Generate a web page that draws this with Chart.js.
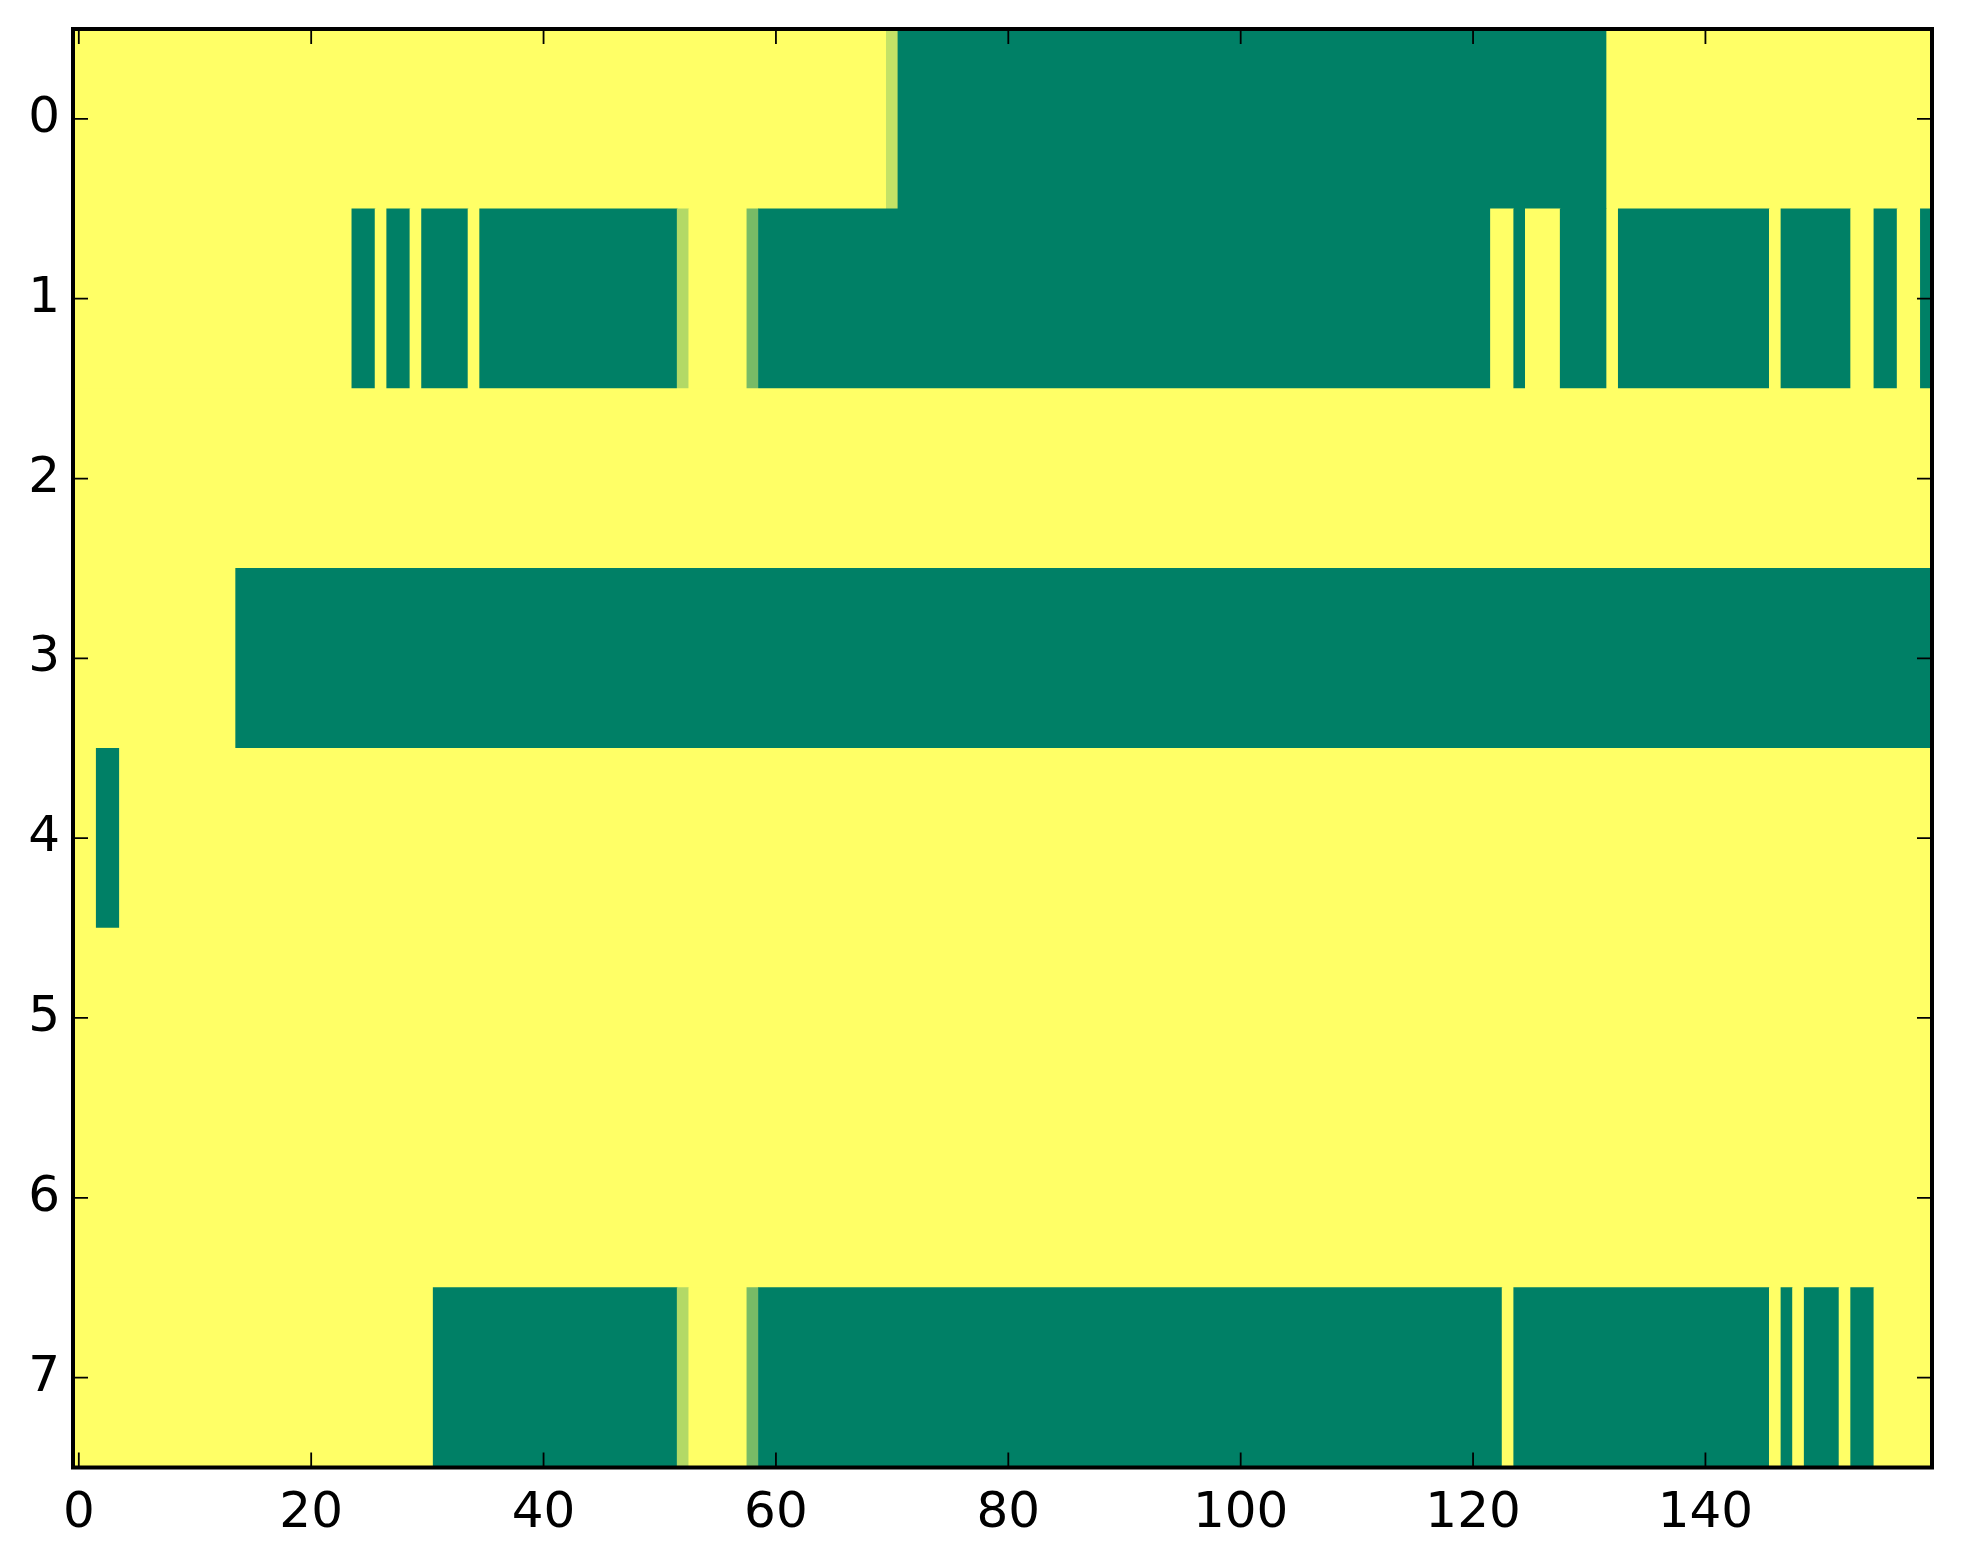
<!DOCTYPE html>
<html>
<head>
<meta charset="utf-8">
<title>imshow</title>
<script src="https://cdn.jsdelivr.net/npm/chart.js@4.4.1/dist/chart.umd.min.js"></script>
<style>
  html, body { margin: 0; padding: 0; background: #fff; }
  #grafica { display: block; }
</style>
</head>
<body>
<canvas id="grafica" width="1963" height="1564"></canvas>
<script>
// Row labels (top to bottom) and x tick labels
var rowLabels = ['0', '1', '2', '3', '4', '5', '6', '7'];
var xTicks = [0, 20, 40, 60, 80, 100, 120, 140];
var xMin = -0.5;
var xMax = 159.5;

// Each row as runs of cells: [first column, last column, value]
var row0 = [[0, 69, 1], [70, 70, 0.77], [71, 131, 0], [132, 159, 1]];
var row1 = [[0, 23, 1], [24, 25, 0], [26, 26, 1], [27, 28, 0], [29, 29, 1], [30, 33, 0],
            [34, 34, 1], [35, 51, 0], [52, 52, 0.70], [53, 57, 1], [58, 58, 0.47],
            [59, 121, 0], [122, 123, 1], [124, 124, 0], [125, 127, 1], [128, 131, 0],
            [132, 132, 1], [133, 145, 0], [146, 146, 1], [147, 152, 0], [153, 154, 1],
            [155, 156, 0], [157, 158, 1], [159, 159, 0]];
var row2 = [[0, 159, 1]];
var row3 = [[0, 13, 1], [14, 159, 0]];
var row4 = [[0, 1, 1], [2, 3, 0], [4, 159, 1]];
var row5 = [[0, 159, 1]];
var row6 = [[0, 159, 1]];
var row7 = [[0, 30, 1], [31, 51, 0], [52, 52, 0.70], [53, 57, 1], [58, 58, 0.47],
            [59, 122, 0], [123, 123, 1], [124, 145, 0], [146, 146, 1], [147, 147, 0],
            [148, 148, 1], [149, 151, 0], [152, 152, 1], [153, 154, 0], [155, 159, 1]];

var rows = [row0, row1, row2, row3, row4, row5, row6, row7];

// matplotlib "summer" colormap
function summer(v) {
    var r = Math.round(255 * v);
    var g = Math.round(255 * (0.5 + v / 2));
    return 'rgb(' + r + ',' + g + ',102)';
}

// Build the cells: every run becomes a floating bar centred on its columns
var celdas = [];
rows.forEach(function (runs, r) {
    runs.forEach(function (run) {
        celdas.push({ x: [run[0] - 0.5, run[1] + 0.5], y: rowLabels[r], v: run[2] });
    });
});

// Frame and inward ticks on all four sides (matplotlib classic look)
var marco = {
    id: 'marco',
    afterDatasetsDraw: function (chart) {
        var ctx = chart.ctx;
        var a = chart.chartArea;
        var xs = chart.scales.x;
        var ys = chart.scales.y;
        var len = 15;
        ctx.save();
        ctx.strokeStyle = '#000';
        ctx.lineWidth = 1.8;
        ctx.beginPath();
        for (var i = 0; i < xs.ticks.length; i++) {
            var px = xs.getPixelForTick(i);
            ctx.moveTo(px, a.bottom); ctx.lineTo(px, a.bottom - len);
            ctx.moveTo(px, a.top); ctx.lineTo(px, a.top + len);
        }
        for (var j = 0; j < ys.ticks.length; j++) {
            var py = ys.getPixelForTick(j);
            ctx.moveTo(a.left, py); ctx.lineTo(a.left + len, py);
            ctx.moveTo(a.right, py); ctx.lineTo(a.right - len, py);
        }
        ctx.stroke();
        ctx.lineWidth = 4;
        ctx.strokeRect(a.left, a.top, a.right - a.left, a.bottom - a.top);
        ctx.restore();
    }
};

Chart.defaults.font.family = '"DejaVu Sans", sans-serif';
Chart.defaults.font.size = 50;
Chart.defaults.color = '#000';

var ctx = document.getElementById('grafica').getContext('2d');
var grafica = new Chart(ctx, {
    type: 'bar',
    data: {
        labels: rowLabels,
        datasets: [{
            data: celdas,
            backgroundColor: function (c) { return summer(c.raw.v); },
            borderWidth: 0,
            categoryPercentage: 1,
            barPercentage: 1
        }]
    },
    options: {
        indexAxis: 'y',
        responsive: false,
        devicePixelRatio: 1,
        animation: false,
        layout: { padding: { top: 29, right: 31, left: 0, bottom: 0 } },
        plugins: {
            legend: { display: false },
            tooltip: { enabled: false }
        },
        scales: {
            x: {
                type: 'linear',
                min: xMin,
                max: xMax,
                grid: { display: false, drawTicks: false },
                border: { display: false },
                ticks: { padding: 17, maxRotation: 0 },
                afterBuildTicks: function (scale) {
                    scale.ticks = xTicks.map(function (v) { return { value: v }; });
                },
                afterFit: function (scale) {
                    scale.height = 96.5;
                    scale.paddingLeft = 0;
                    scale.paddingRight = 0;
                }
            },
            y: {
                type: 'category',
                grid: { display: false, drawTicks: false },
                border: { display: false },
                ticks: { padding: 13 },
                afterFit: function (scale) {
                    scale.width = 73;
                    scale.paddingTop = 0;
                    scale.paddingBottom = 0;
                }
            }
        }
    },
    plugins: [marco]
});
</script>
</body>
</html>
